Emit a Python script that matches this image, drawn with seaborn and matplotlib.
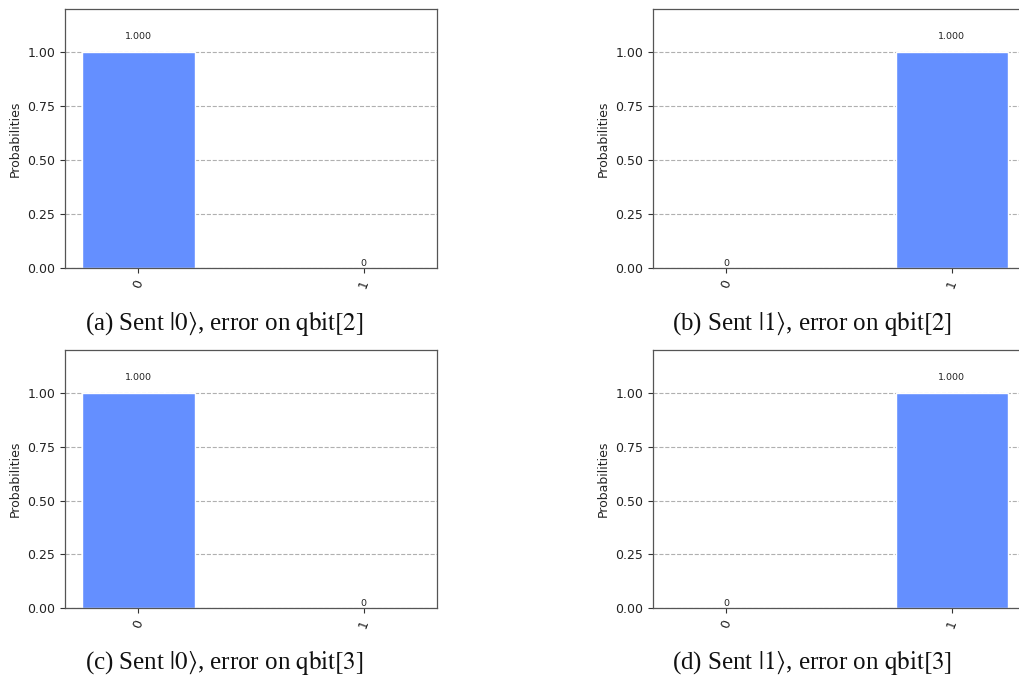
import numpy as np
import matplotlib
matplotlib.use('Agg')
import matplotlib.pyplot as plt
import seaborn as sns

# Measurement outcomes for each experiment
states = ['0', '1']
probs_a = [1.0, 0.0]
probs_b = [0.0, 1.0]
probs_c = [1.0, 0.0]
probs_d = [0.0, 1.0]
captions = [
    r'(a) Sent $|0\rangle$, error on $\mathrm{qbit}[2]$',
    r'(b) Sent $|1\rangle$, error on $\mathrm{qbit}[2]$',
    r'(c) Sent $|0\rangle$, error on $\mathrm{qbit}[3]$',
    r'(d) Sent $|1\rangle$, error on $\mathrm{qbit}[3]$',
]
yticks = [0.0, 0.25, 0.5, 0.75, 1.0]

sns.set_style("white")
plt.rcParams['font.family'] = ['DejaVu Sans']
plt.rcParams['mathtext.fontset'] = 'stix'

fig = plt.figure(figsize=(10.19, 6.82), dpi=100)

# axes rectangles (right column runs off the page like in the original scan)
rects = [
    [0.0638, 0.607, 0.365, 0.380],
    [0.641, 0.607, 0.365, 0.380],
    [0.0638, 0.1085, 0.365, 0.378],
    [0.641, 0.1085, 0.365, 0.378],
]
cap_pos = [(0.220, 0.526), (0.797, 0.526), (0.220, 0.028), (0.797, 0.028)]

for probs, rect, cap, pos in zip([probs_a, probs_b, probs_c, probs_d], rects, captions, cap_pos):
    ax = fig.add_axes(rect)
    sns.barplot(x=states, y=probs, color='#648fff', width=0.5, saturation=1,
                errorbar=None, ax=ax, zorder=2)
    for i, v in enumerate(probs):
        label = '0' if v == 0 else f'{v:.3f}'
        ax.text(i, 1.05 * v, label, ha='center', va='bottom', fontsize=6.8,
                color='#222222', zorder=3)
    ax.set_xlim(-0.325, 1.325)
    ax.set_ylim(0, 1.2)
    ax.set_yticks(yticks)
    ax.set_yticklabels([f'{t:.2f}' for t in yticks], fontsize=9)
    ax.set_xticks(range(len(states)))
    ax.set_xticklabels(states, rotation=70, fontsize=9)
    ax.set_ylabel('Probabilities', fontsize=9)
    ax.grid(axis='y', linestyle='--', color='#b0b0b0', linewidth=0.8, zorder=0)
    ax.set_axisbelow(True)
    ax.tick_params(axis='both', which='major', length=3.5, width=0.8,
                   color='#333333', labelcolor='#222222', bottom=True, left=True)
    for sp in ax.spines.values():
        sp.set_color('#555555')
        sp.set_linewidth(0.9)
    fig.text(pos[0], pos[1], cap, ha='center', va='center', fontsize=18,
             family='Liberation Serif', color='#111111')

plt.savefig('out.png', dpi=100)
